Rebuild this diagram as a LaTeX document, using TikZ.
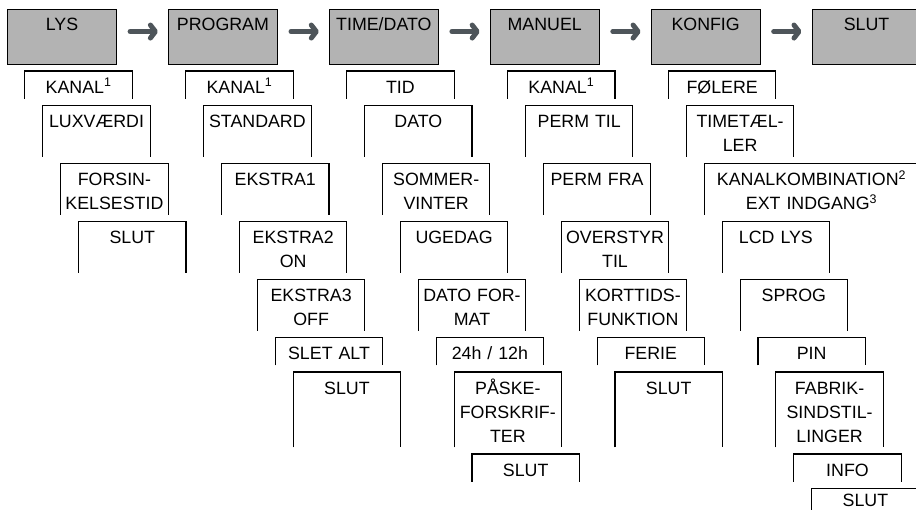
\documentclass[tikz,border=0pt]{standalone}
\usepackage{fontspec}
\setmainfont{Liberation Sans}
\usetikzlibrary{arrows.meta}
\definecolor{menugray}{RGB}{179,179,179}
\definecolor{arrowgray}{RGB}{78,85,90}
\tikzset{
  menu/.style={draw, fill=menugray, line width=1.1pt, anchor=north west, inner sep=0pt,
    text width=109pt, align=center, text height=21pt, text depth=34pt},
  entry/.style={anchor=north west, inner sep=0pt, align=center},
  frame/.style={line width=1.1pt},
  nextarrow/.style={draw=arrowgray, line width=5pt, line cap=round,
    shorten <=13pt, shorten >=10pt, -{Straight Barb[length=5pt,width=13pt,round]}}
}
\newcommand\menuentry[5][107]{%
  \pgfmathsetmacro\entryx{7+160.9*#3+17.9*#4}%
  \pgfmathsetmacro\entryy{{0,71,105.5,163.5,221.5,279.5,337.5,372,454,488.5}[#4]}%
  \pgfmathsetmacro\entryt{{0,22,22,22,22,22,22,22,22,17.5}[#4]}%
  \pgfmathsetmacro\entryd{{0,5.5,29,29,29,29,5.5,53,5.5,10}[#4]}%
  \node[entry, text width=#1pt, text height=\entryt pt, text depth=\entryd pt] (#2) at (\entryx,\entryy) {#5};
  \draw[frame] (#2.south west) |- (#2.north) -| (#2.south east);
}
\begin{document}
\begin{tikzpicture}[x=1pt, y=-1pt, font=\fontsize{17.8pt}{24pt}\selectfont]
  \useasboundingbox (0,0) rectangle (916,510);
  \node[menu] (lys)      at (7,9)     {LYS};
  \node[menu] (program)  at (167.9,9) {PROGRAM};
  \node[menu] (timedato) at (328.8,9) {TIME/DATO};
  \node[menu] (manuel)   at (489.7,9) {MANUEL};
  \node[menu] (konfig)   at (650.6,9) {KONFIG};
  \node[menu] (slut)     at (811.5,9) {SLUT};
  \foreach \a/\b in {lys/program, program/timedato, timedato/manuel, manuel/konfig, konfig/slut}
    \draw[nextarrow] ([yshift=5.5pt]\a.east) -- ([yshift=5.5pt]\b.west);

  \menuentry{lys1}{0}{1}{KANAL\textsuperscript{1}}
  \menuentry{lys2}{0}{2}{LUXVÆRDI}
  \menuentry{lys3}{0}{3}{FORSIN-\\KELSESTID}
  \menuentry{lys4}{0}{4}{SLUT}

  \menuentry{prog1}{1}{1}{KANAL\textsuperscript{1}}
  \menuentry{prog2}{1}{2}{STANDARD}
  \menuentry{prog3}{1}{3}{EKSTRA1}
  \menuentry{prog4}{1}{4}{EKSTRA2\\ON}
  \menuentry{prog5}{1}{5}{EKSTRA3\\OFF}
  \menuentry{prog6}{1}{6}{SLET ALT}
  \menuentry{prog7}{1}{7}{SLUT}

  \menuentry{time1}{2}{1}{TID}
  \menuentry{time2}{2}{2}{DATO}
  \menuentry{time3}{2}{3}{SOMMER-\\VINTER}
  \menuentry{time4}{2}{4}{UGEDAG}
  \menuentry{time5}{2}{5}{DATO FOR-\\MAT}
  \menuentry{time6}{2}{6}{24h / 12h}
  \menuentry{time7}{2}{7}{PÅSKE-\\FORSKRIF-\\TER}
  \menuentry{time8}{2}{8}{SLUT}

  \menuentry{man1}{3}{1}{KANAL\textsuperscript{1}}
  \menuentry{man2}{3}{2}{PERM TIL}
  \menuentry{man3}{3}{3}{PERM FRA}
  \menuentry{man4}{3}{4}{OVERSTYR\\TIL}
  \menuentry{man5}{3}{5}{KORTTIDS-\\FUNKTION}
  \menuentry{man6}{3}{6}{FERIE}
  \menuentry{man7}{3}{7}{SLUT}

  \menuentry{konf1}{4}{1}{FØLERE}
  \menuentry{konf2}{4}{2}{TIMETÆL-\\LER}
  \menuentry[214]{konf3}{4}{3}{KANALKOMBINATION\textsuperscript{2}\\EXT INDGANG\textsuperscript{3}}
  \menuentry{konf4}{4}{4}{LCD LYS}
  \menuentry{konf5}{4}{5}{SPROG}
  \menuentry{konf6}{4}{6}{PIN}
  \menuentry{konf7}{4}{7}{FABRIK-\\SINDSTIL-\\LINGER}
  \menuentry{konf8}{4}{8}{INFO}
  \menuentry{konf9}{4}{9}{SLUT}
\end{tikzpicture}
\end{document}
